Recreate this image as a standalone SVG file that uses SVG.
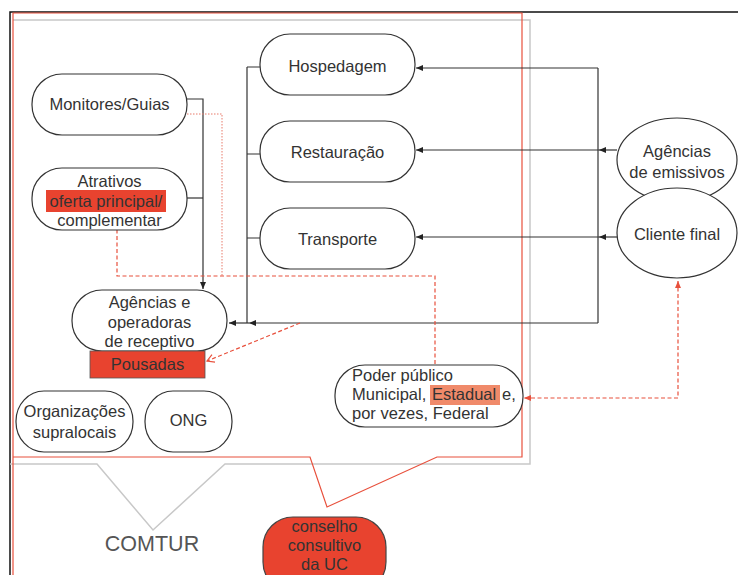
<svg xmlns="http://www.w3.org/2000/svg" width="738" height="575" viewBox="0 0 738 575">
<defs>
<style>
.n{fill:#fff;stroke:#333;stroke-width:1.2}
.t{font-family:"Liberation Sans",Arial,sans-serif;font-size:16.5px;fill:#333;text-anchor:middle}
.tl{font-family:"Liberation Sans",Arial,sans-serif;font-size:16.5px;fill:#333}
.bk{fill:none;stroke:#333;stroke-width:1.2}
.rd{fill:none;stroke:#e8503c;stroke-width:1.2;stroke-dasharray:4,2.5}
.rdot{fill:none;stroke:#e87a6a;stroke-width:1;stroke-dasharray:1.5,1.5}
</style>
<marker id="ab" markerWidth="8" markerHeight="8" refX="7" refY="4" orient="auto" markerUnits="userSpaceOnUse"><path d="M0,1 L7,4 L0,7 Z" fill="#222"/></marker>
<marker id="ar" markerWidth="8" markerHeight="8" refX="7" refY="4" orient="auto-start-reverse" markerUnits="userSpaceOnUse"><path d="M0,1 L7,4 L0,7 Z" fill="#e8503c"/></marker>
<marker id="ao" markerWidth="10" markerHeight="10" refX="8" refY="5" orient="auto" markerUnits="userSpaceOnUse"><path d="M1,1 L8,5 L1,9" fill="none" stroke="#e8503c" stroke-width="1.2"/></marker>
</defs>
<rect x="0" y="0" width="738" height="575" fill="#fff"/>
<g id="frame">
<path d="M10,575 V12 H738" fill="none" stroke="#111" stroke-width="1.5"/>
<path d="M13,20 H530 V464 H225 L153,530 L97,464 H10" fill="none" stroke="#c8c8c8" stroke-width="1.5"/>
<path d="M13,575 V13 H522 V457 H437 L327,507 L310,457 H13" fill="none" stroke="#e8503c" stroke-width="1.2"/>
<text x="152" y="551" font-family="'Liberation Sans',Arial,sans-serif" font-size="21.5" fill="#555" text-anchor="middle">COMTUR</text>
</g>
<g id="connectors">
<path class="bk" d="M247,67 V323"/>
<path class="bk" d="M247,67 H260 M247,154 H260 M247,238 H260"/>
<path class="bk" d="M598,68 V323"/>
<path class="bk" d="M598,68 H416" marker-end="url(#ab)"/>
<path class="bk" d="M617,150 H599" marker-end="url(#ab)"/>
<path class="bk" d="M599,150 H416" marker-end="url(#ab)"/>
<path class="bk" d="M617,237 H599" marker-end="url(#ab)"/>
<path class="bk" d="M599,237 H416" marker-end="url(#ab)"/>
<path class="bk" d="M598,323 H249" marker-end="url(#ab)"/>
<path class="bk" d="M249,323 H229" marker-end="url(#ab)"/>
<path class="bk" d="M187,99 H203 V289" marker-end="url(#ab)"/>
<path class="bk" d="M187,198 H203"/>
<path class="rdot" d="M187,114 H222 V276"/>
<path class="rd" d="M435,377 V276 H117 V213" marker-end="url(#ar)"/>
<path class="rd" d="M300,323 L207,361" marker-end="url(#ao)"/>
<path class="rd" d="M678,281 V398 H524" marker-start="url(#ar)" marker-end="url(#ar)"/>
</g>
<g id="monitores">
<rect class="n" x="32" y="74" width="155" height="61" rx="30" ry="30"/>
<text class="t" x="109.5" y="110">Monitores/Guias</text>
</g>
<g id="atrativos">
<rect class="n" x="32" y="168" width="155" height="62" rx="30" ry="30"/>
<rect x="46" y="190" width="120" height="22" fill="#e8432f"/>
<text class="t" x="109.5" y="187">Atrativos</text>
<text class="t" x="106" y="207" fill="#4a2418">oferta principal/</text>
<text class="t" x="109.5" y="226">complementar</text>
</g>
<g id="hospedagem">
<rect class="n" x="260" y="34" width="155" height="61" rx="30" ry="30"/>
<text class="t" x="337.5" y="72">Hospedagem</text>
</g>
<g id="restauracao">
<rect class="n" x="260" y="121" width="155" height="61" rx="30" ry="30"/>
<text class="t" x="337.5" y="158">Restauração</text>
</g>
<g id="transporte">
<rect class="n" x="260" y="208" width="155" height="61" rx="30" ry="30"/>
<text class="t" x="337.5" y="245">Transporte</text>
</g>
<g id="agencias-receptivo">
<rect class="n" x="72" y="290" width="155" height="61" rx="30" ry="30"/>
<text class="t" x="149.5" y="308">Agências e</text>
<text class="t" x="149.5" y="328">operadoras</text>
<text class="t" x="149.5" y="347">de receptivo</text>
</g>
<g id="pousadas">
<rect x="90" y="351" width="115" height="27" fill="#e8432f" stroke="#555" stroke-width="0.8"/>
<text class="t" x="147.5" y="370" fill="#4a2418">Pousadas</text>
</g>
<g id="organizacoes">
<rect class="n" x="16" y="391" width="117" height="61" rx="28" ry="30"/>
<text class="t" x="74.5" y="417">Organizações</text>
<text class="t" x="74.5" y="438">supralocais</text>
</g>
<g id="ong">
<rect class="n" x="145" y="391" width="87" height="61" rx="28" ry="30"/>
<text class="t" x="188.5" y="426">ONG</text>
</g>
<g id="poder-publico">
<rect class="n" x="335" y="365" width="188" height="62" rx="30" ry="30"/>
<rect x="430" y="385" width="70" height="20" fill="#f08a6a"/>
<text class="tl" x="352" y="381">Poder público</text>
<text class="tl" y="400"><tspan x="352">Municipal,</tspan><tspan x="432">Estadual</tspan><tspan x="502">e,</tspan></text>
<text class="tl" x="352" y="419">por vezes, Federal</text>
</g>
<g id="agencias-emissivos">
<ellipse class="n" cx="677" cy="160" rx="60" ry="42"/>
<text class="t" x="677" y="157">Agências</text>
<text class="t" x="677" y="178">de emissivos</text>
</g>
<g id="cliente-final">
<ellipse class="n" cx="677" cy="233" rx="60" ry="45" fill="none"/>
<text class="t" x="677" y="240">Cliente final</text>
</g>
<g id="conselho">
<rect x="263" y="517" width="123" height="75" rx="30" ry="30" fill="#e8432f" stroke="#444" stroke-width="1.2"/>
<text class="t" x="324.5" y="532" fill="#3a1a12">conselho</text>
<text class="t" x="324.5" y="551" fill="#3a1a12">consultivo</text>
<text class="t" x="324.5" y="570" fill="#3a1a12">da UC</text>
</g>
</svg>
